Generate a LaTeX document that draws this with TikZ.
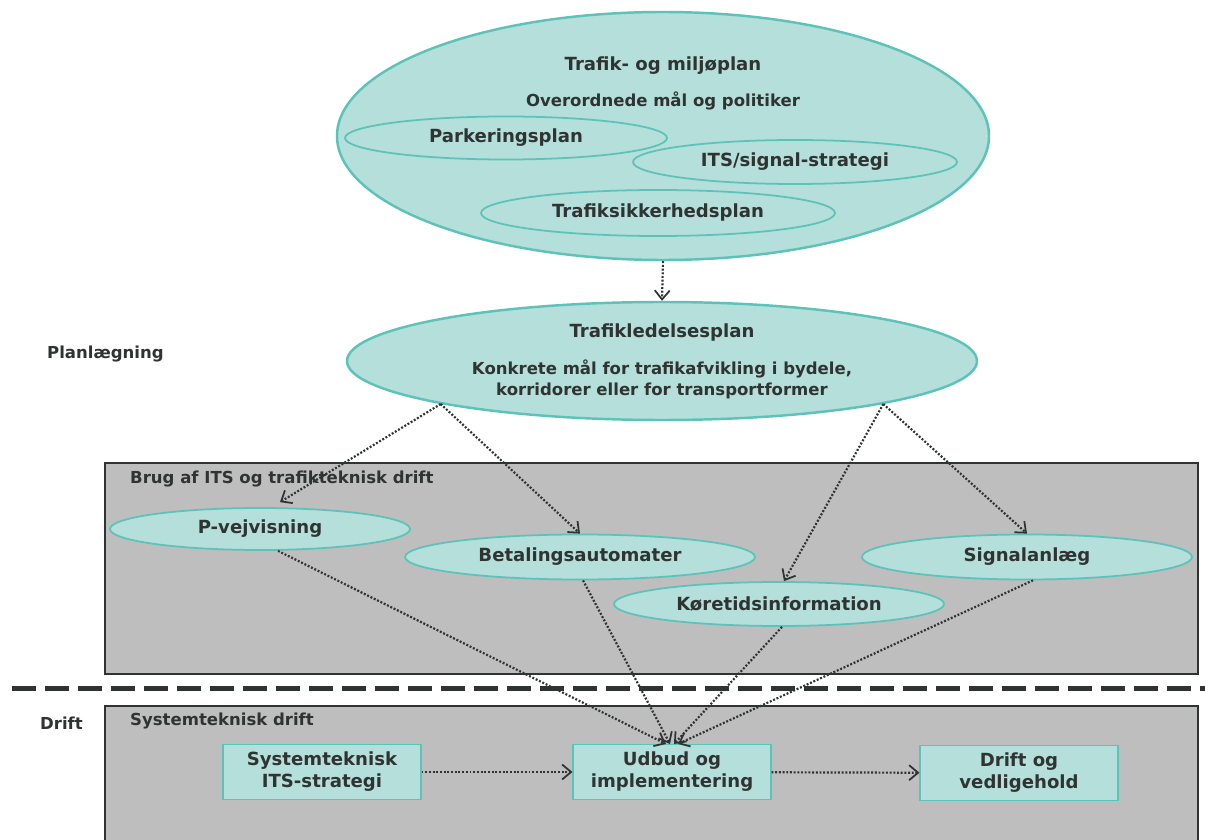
\documentclass[tikz,border=0pt]{standalone}
\usepackage{fontspec}
\setmainfont{DejaVu Sans}
\usetikzlibrary{shapes.geometric,arrows.meta}
\definecolor{tealfill}{HTML}{B4DFDB}
\definecolor{tealline}{HTML}{5DC3B8}
\definecolor{boxgray}{HTML}{BEBEBE}
\definecolor{ink}{HTML}{2F3433}
\begin{document}
\begin{tikzpicture}[x=0.2mm,y=-0.2mm,
    plan/.style={ellipse,draw=tealline,fill=tealfill,line width=1pt,inner sep=0pt},
    lbl/.style={font=\bfseries\fontsize{10.3}{12.5}\selectfont,text=ink,align=center},
    sub/.style={font=\bfseries\fontsize{9.4}{12}\selectfont,text=ink,align=center},
    area/.style={rectangle,draw=ink,fill=boxgray,line width=1.1pt,inner sep=0pt,anchor=north west,minimum width=218.6mm},
    stepbox/.style={rectangle,draw=tealline,fill=tealfill,line width=0.6pt,minimum width=39.6mm,minimum height=11mm,inner sep=0pt},
    flow/.style={draw=ink,line width=1.25pt,dash pattern=on 1.1pt off 1pt,-{Straight Barb[length=1.8mm,width=3mm,line width=1pt]}}
]
\useasboundingbox (0,0) rectangle (1205,840);
% gray areas
\node[area,minimum height=42.2mm] (brug) at (104,462) {};
\node[area,minimum height=27.4mm] (sys) at (104,705) {};
\node[sub,anchor=west] (brugtitle) at (124,479) {Brug af ITS og trafikteknisk drift};
\node[sub,anchor=west] (systitle) at (124,721) {Systemteknisk drift};
\node[sub,anchor=west] (planlab) at (41,354) {Planlægning};
\node[sub,anchor=west] (driftlab) at (34,723) {Drift};
\draw[ink,line width=1mm,dash pattern=on 4.8mm off 1.8mm] (12,688) -- (1205,688);

% trafik- og miljoplan
\node[plan,line width=1.4pt,minimum width=130.4mm,minimum height=49.6mm] (tmp) at (663,136) {};
\node[lbl] (tmptitle) at (663,66) {Trafik- og miljøplan};
\node[sub] (tmpsub) at (663,101) {Overordnede mål og politiker};
\node[plan,fill=none,minimum width=64.4mm,minimum height=8.6mm] (park) at (506,138) {};
\node[plan,fill=none,minimum width=64.8mm,minimum height=8.8mm] (sig) at (795,162) {};
\node[plan,fill=none,minimum width=70.8mm,minimum height=9.2mm] (sik) at (658,213) {};
\node[lbl] at (park) {Parkeringsplan};
\node[lbl] at (sig) {ITS/signal-strategi};
\node[lbl] at (sik) {Trafiksikkerhedsplan};

% trafikledelsesplan
\node[plan,line width=1.4pt,minimum width=126mm,minimum height=23.6mm] (tlp) at (662,361) {};
\node[lbl] (tlptitle) at (662,333) {Trafikledelsesplan};
\node[sub] (tlpsub) at (662,379) {Konkrete mål for trafikafvikling i bydele,\\korridorer eller for transportformer};

% ITS elements
\node[plan,minimum width=60mm,minimum height=8.4mm] (pv) at (260,529) {};
\node[plan,minimum width=70mm,minimum height=9mm] (ba) at (580,557) {};
\node[plan,minimum width=66mm,minimum height=8.8mm] (kt) at (779,604) {};
\node[plan,minimum width=66mm,minimum height=9mm] (sa) at (1027,557) {};
\node[lbl] at (pv) {P-vejvisning};
\node[lbl] at (ba) {Betalingsautomater};
\node[lbl] at (kt) {Køretidsinformation};
\node[lbl] at (sa) {Signalanlæg};

% system boxes
\node[stepbox] (st) at (322,772) {};
\node[stepbox] (ub) at (672,772) {};
\node[stepbox] (dv) at (1019,773) {};
\node[lbl] at (st) {Systemteknisk\\ITS-strategi};
\node[lbl] at (ub) {Udbud og\\implementering};
\node[lbl] at (dv) {Drift og\\vedligehold};

% arrows
\draw[flow] (tmp.south) -- (tlp.north);
\draw[flow] (tlp.191) -- ([xshift=4mm,yshift=1mm]pv.north);
\draw[flow] (tlp.191) -- (ba.north);
\draw[flow] (tlp.349) -- ([xshift=1mm]kt.north);
\draw[flow] (tlp.349) -- (sa.north);
\draw[flow] ([xshift=3.6mm]pv.south) -- ([xshift=-1.2mm]ub.north);
\draw[flow] ([xshift=0.6mm]ba.south) -- ([xshift=-0.4mm]ub.north);
\draw[flow] ([xshift=0.6mm]kt.south) -- ([xshift=0.4mm]ub.north);
\draw[flow] ([xshift=1.2mm]sa.south) -- ([xshift=1.2mm]ub.north);
\draw[flow] (st) -- (ub);
\draw[flow] (ub) -- (dv);
\end{tikzpicture}
\end{document}
